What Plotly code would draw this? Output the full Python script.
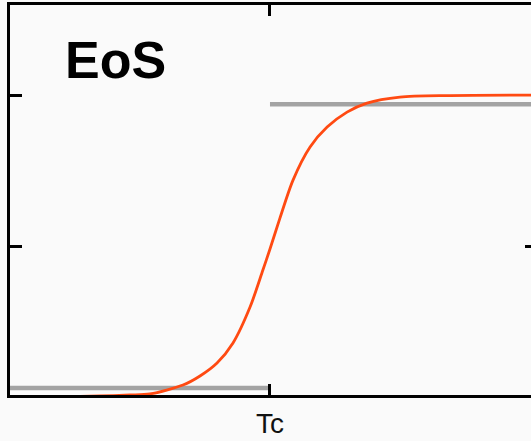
import plotly.graph_objects as go

# Curve (x in units of Tc, y in arbitrary units)
curve_x = [0.0, 0.198, 0.351, 0.466, 0.542, 0.668, 0.733, 0.798, 0.859, 0.924,
           0.973, 1.0, 1.038, 1.088, 1.153, 1.218, 1.294, 1.370, 1.496, 1.687, 2.0]
curve_y = [0.0, 0.001, 0.007, 0.013, 0.020, 0.079, 0.139, 0.225, 0.358, 0.596,
           0.841, 0.980, 1.185, 1.437, 1.656, 1.788, 1.887, 1.947, 1.987, 1.997, 2.0]

# Gray reference levels
low_x = [0.0, 1.0]
low_y = [0.06, 0.06]
high_x = [1.0, 2.0]
high_y = [1.94, 1.94]

x_tickvals = [1.0]
y_tickvals = [1.0, 2.0]
y_right_tickvals = [1.0]
title_text = "EoS"
tc_label = "Tc"

bg = "#fafafa"
font_family = "Liberation Sans, Arial, sans-serif"

fig = go.Figure()
fig.add_trace(go.Scatter(x=low_x, y=low_y, mode="lines",
                         line=dict(color="#a3a3a3", width=4.5), hoverinfo="skip"))
fig.add_trace(go.Scatter(x=high_x, y=high_y, mode="lines",
                         line=dict(color="#a3a3a3", width=4.5), hoverinfo="skip"))
fig.add_trace(go.Scatter(x=curve_x, y=curve_y, mode="lines",
                         line=dict(color="#ff4a12", width=2.8, shape="spline", smoothing=0.8),
                         hoverinfo="skip"))
# invisible trace to activate the right-hand axis
fig.add_trace(go.Scatter(x=[None], y=[None], yaxis="y2", showlegend=False, hoverinfo="skip"))

fig.add_annotation(x=0.412, y=2.23, xref="x", yref="y", text="<b>%s</b>" % title_text,
                   showarrow=False, font=dict(family=font_family, size=52, color="#000000"),
                   xanchor="center", yanchor="middle")
fig.add_annotation(x=1.0, y=-0.072, xref="x", yref="paper", text=tc_label,
                   showarrow=False, font=dict(family=font_family, size=28, color="#111111"),
                   xanchor="center", yanchor="middle")

y_range = [0.013, 2.597]
fig.update_layout(
    width=531, height=441,
    margin=dict(l=10, r=0, t=5, b=46),
    paper_bgcolor=bg, plot_bgcolor=bg,
    showlegend=False,
    xaxis=dict(range=[0.008, 1.996], showgrid=False, zeroline=False,
               showline=True, linecolor="#000000", linewidth=3, mirror="ticks",
               ticks="inside", ticklen=11, tickwidth=3, tickcolor="#000000",
               tickvals=x_tickvals, showticklabels=False),
    yaxis=dict(range=y_range, showgrid=False, zeroline=False,
               showline=True, linecolor="#000000", linewidth=3, mirror=False,
               ticks="inside", ticklen=12, tickwidth=3, tickcolor="#000000",
               tickvals=y_tickvals, showticklabels=False),
    yaxis2=dict(range=y_range, overlaying="y", side="right", showgrid=False,
                zeroline=False, showline=False,
                ticks="inside", ticklen=6, tickwidth=3, tickcolor="#000000",
                tickvals=y_right_tickvals, showticklabels=False),
)

fig.write_html("out.html", config={"displayModeBar": False},
               post_script=("document.body.style.margin='0';"
                            "document.body.style.overflow='hidden';"
                            "document.documentElement.style.overflow='hidden';"
                            "document.body.style.background='%s';" % bg))
